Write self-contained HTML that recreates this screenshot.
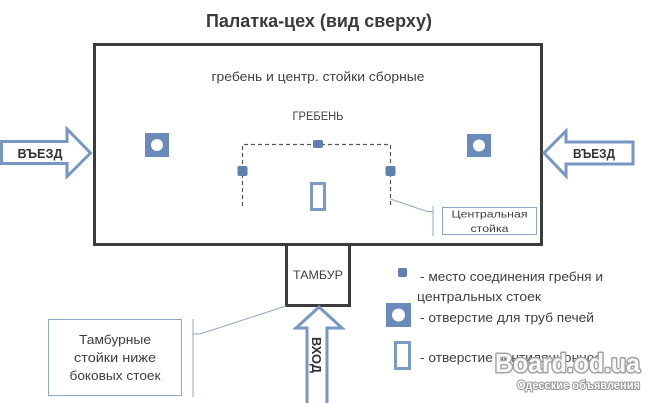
<!DOCTYPE html>
<html><head><meta charset="utf-8"><style>
html,body{margin:0;padding:0;background:#fff;}
svg{display:block;}
text{font-family:"Liberation Sans","Noto Sans CJK SC",sans-serif;}
</style></head><body>
<svg width="652" height="403" viewBox="0 0 652 403" xmlns="http://www.w3.org/2000/svg">
<rect width="652" height="403" fill="#fff"/>
<!-- title -->
<text x="319" y="27" font-size="18" font-weight="bold" fill="#3a3a3a" text-anchor="middle" textLength="226" lengthAdjust="spacingAndGlyphs">Палатка-цех (вид сверху)</text>
<!-- main rect -->
<rect x="94.5" y="44.5" width="447" height="200" fill="#fff" stroke="#3c3c3c" stroke-width="3"/>
<text x="318" y="81" font-size="13" fill="#404040" text-anchor="middle" textLength="213" lengthAdjust="spacingAndGlyphs">гребень и центр. стойки сборные</text>
<text x="318" y="120" font-size="11.5" fill="#404040" text-anchor="middle" textLength="51" lengthAdjust="spacingAndGlyphs">ГРЕБЕНЬ</text>
<!-- ridge dashed -->
<path d="M242.5 206 V144.5 H390.5 V206" fill="none" stroke="#555" stroke-width="1.2" stroke-dasharray="4 3"/>
<rect x="313" y="140" width="10" height="8" rx="2" fill="#5f7fae"/>
<rect x="237.5" y="166" width="10" height="10" rx="2" fill="#5f7fae"/>
<rect x="385.5" y="166" width="10" height="10" rx="2" fill="#5f7fae"/>
<!-- vent -->
<rect x="311.5" y="183.5" width="13" height="26" fill="#fff" stroke="#7b9bc3" stroke-width="3"/>
<!-- stoves -->
<rect x="145" y="133" width="24" height="24" fill="#6a8bba"/>
<circle cx="157" cy="145" r="6" fill="#fff"/>
<rect x="467" y="134" width="24" height="23" fill="#6a8bba"/>
<circle cx="479" cy="145.5" r="6" fill="#fff"/>
<!-- central callout -->
<polyline points="390.5,199 427,211.5 433,211.5" fill="none" stroke="#8fa8c8" stroke-width="1"/>
<line x1="433" y1="206" x2="433" y2="236" stroke="#8fa8c8" stroke-width="1"/>
<rect x="442.5" y="207.5" width="94" height="27" fill="#fff" stroke="#8fa8c8" stroke-width="1"/>
<text x="489.5" y="217.5" font-size="10.5" fill="#404040" text-anchor="middle" textLength="76" lengthAdjust="spacingAndGlyphs">Центральная</text>
<text x="489.5" y="232" font-size="10.5" fill="#404040" text-anchor="middle" textLength="38" lengthAdjust="spacingAndGlyphs">стойка</text>
<!-- left arrow -->
<polygon points="1.5,141.5 67,141.5 67,129 90.5,153 67,176.5 67,163.5 1.5,163.5" fill="#fff" stroke="#7996c2" stroke-width="3" stroke-linejoin="miter"/>
<text x="40" y="158" font-size="13" font-weight="bold" fill="#333" text-anchor="middle" textLength="45" lengthAdjust="spacingAndGlyphs">ВЪЕЗД</text>
<!-- right arrow -->
<polygon points="544,153 566,131 566,142 633,142 633,164 566,164 566,176" fill="#fff" stroke="#7996c2" stroke-width="3" stroke-linejoin="miter"/>
<text x="594" y="158" font-size="13" font-weight="bold" fill="#333" text-anchor="middle" textLength="42" lengthAdjust="spacingAndGlyphs">ВЪЕЗД</text>
<!-- tambur -->
<rect x="286.5" y="244.5" width="63" height="61" fill="#fff" stroke="#3c3c3c" stroke-width="3"/>
<text x="318" y="279" font-size="12" fill="#404040" text-anchor="middle" textLength="50" lengthAdjust="spacingAndGlyphs">ТАМБУР</text>
<!-- up arrow -->
<polygon points="319,307 342,328 327,328 327,410 307,410 307,328 296,328" fill="#fff" stroke="#7996c2" stroke-width="3" stroke-linejoin="miter"/>
<text transform="translate(312,355) rotate(90)" x="0" y="0" font-size="13" font-weight="bold" fill="#333" text-anchor="middle" textLength="36" lengthAdjust="spacingAndGlyphs">ВХОД</text>
<!-- tambur callout -->
<polyline points="286,306 200,334 193,334" fill="none" stroke="#8fa8c8" stroke-width="1"/>
<line x1="193" y1="319" x2="193" y2="397" stroke="#8fa8c8" stroke-width="1"/>
<rect x="48.5" y="319.5" width="133" height="76" fill="#fff" stroke="#8fa8c8" stroke-width="1"/>
<text x="115" y="344" font-size="13" fill="#404040" text-anchor="middle" textLength="72" lengthAdjust="spacingAndGlyphs">Тамбурные</text>
<text x="115" y="362" font-size="13" fill="#404040" text-anchor="middle" textLength="82" lengthAdjust="spacingAndGlyphs">стойки ниже</text>
<text x="115" y="380" font-size="13" fill="#404040" text-anchor="middle" textLength="91" lengthAdjust="spacingAndGlyphs">боковых стоек</text>
<!-- legend -->
<rect x="398" y="268" width="9" height="9" rx="2" fill="#5f7fae"/>
<text x="420" y="281" font-size="13" fill="#404040" textLength="183" lengthAdjust="spacingAndGlyphs">- место соединения гребня и</text>
<text x="417" y="301" font-size="13" fill="#404040" textLength="124" lengthAdjust="spacingAndGlyphs">центральных стоек</text>
<rect x="386" y="303" width="25" height="24" fill="#6a8bba"/>
<circle cx="398.5" cy="315" r="6.5" fill="#fff"/>
<text x="420" y="322" font-size="13" fill="#404040" textLength="174" lengthAdjust="spacingAndGlyphs">- отверстие для труб печей</text>
<rect x="395.5" y="342.5" width="14" height="26" fill="#fff" stroke="#7b9bc3" stroke-width="3"/>
<text x="420" y="362" font-size="13" fill="#404040" textLength="182" lengthAdjust="spacingAndGlyphs">- отверстие вентиляционное</text>
<!-- watermark -->
<text x="495" y="372" font-size="26" font-weight="bold" fill="#fff" fill-opacity="0.9" stroke="#a3a3a3" stroke-width="3" paint-order="stroke" stroke-linejoin="round" textLength="145" lengthAdjust="spacingAndGlyphs">Board.od.ua</text>
<text x="517" y="389" font-size="12" font-weight="bold" fill="#fff" stroke="#959595" stroke-width="2" paint-order="stroke" stroke-linejoin="round" textLength="123" lengthAdjust="spacingAndGlyphs">Одесские объявления</text>
</svg>
</body></html>
